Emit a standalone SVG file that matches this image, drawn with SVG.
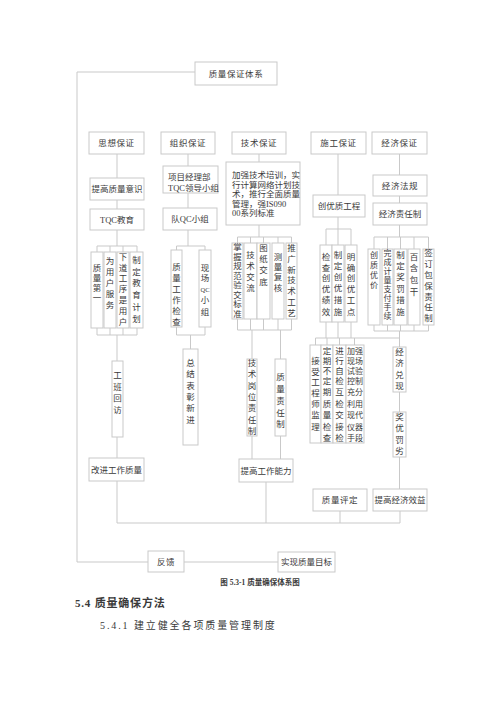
<svg xmlns="http://www.w3.org/2000/svg" width="500" height="707" viewBox="0 0 500 707">
<style>
.b{fill:#fff;stroke:#c9c9c9;stroke-width:1}
.l{fill:none;stroke:#c9c9c9;stroke-width:1}
text{font-family:"Liberation Serif","Noto Sans CJK SC",serif;font-size:8.5px;fill:#3a3a3a}
.c{text-anchor:middle}
.s{font-size:8px}
.h{letter-spacing:0.6px}
</style>
<rect width="500" height="707" fill="#fff"/>
<g id="connectors" class="l">
<path d="M77,72H195M77,72V562H148M184,562H278"/>
<path d="M117,154V178M117,200V209M117,230V246M97,246H137M97,246V252M110,246V252M123,246V252M137,246V252M97,328V335M110,328V335M123,328V335M137,328V335M97,335H137M117,335V361M117,437V458M117,481V523H400"/>
<path d="M188,154V166M188,193V208M188,230V246M176.5,246H205M176.5,246V250M205,246V250M176.5,327V335M205,327V335M176.5,335H205M190.5,335V349"/>
<path d="M259,154V162M259,225V237M237.5,237H291.5M237.5,237V243M250.5,237V243M263.5,237V243M278,237V243M291.5,237V243M237.5,319V330M250.5,319V330M263.5,319V330M278,319V330M291.5,319V330M237.5,330H291.5M252,330V359M280.5,330V359M252,436V459M280.5,436V459M266,482V523"/>
<path d="M338,154V195M338,217V229M326,229H351M326,229V245M338,229V245M351,229V245M326,322V338M338,322V338M351,322V338M315.5,338H399.5M315.5,338V345M327,338V345M339.5,338V345M354.5,338V345M340,511V523"/>
<path d="M399.5,154V175M399.5,196V203M399.5,225V237M374,237H428.5M374,237V249M387.5,237V249M400.5,237V249M414,237V249M428.5,237V249M374,325V331M387.5,325V331M400.5,325V331M414,325V331M428.5,325V331M374,331H428.5M399.5,331V347M399.5,392V412M399.5,457V489M400,511V523"/>
</g>
<g id="n-root"><rect class="b" x="195" y="62" width="82" height="23"/><text class="c h" x="236" y="77">质量保证体系</text></g>
<g id="n-sixiang"><rect class="b" x="89" y="132" width="55" height="22"/><text class="c h" x="116.5" y="146">思想保证</text></g>
<g id="n-zuzhi"><rect class="b" x="161" y="132" width="54" height="22"/><text class="c h" x="188" y="146">组织保证</text></g>
<g id="n-jishu"><rect class="b" x="232" y="132" width="54" height="22"/><text class="c h" x="259" y="146">技术保证</text></g>
<g id="n-shigong"><rect class="b" x="311" y="132" width="55" height="22"/><text class="c h" x="338.5" y="146">施工保证</text></g>
<g id="n-jingji"><rect class="b" x="372" y="132" width="55" height="22"/><text class="c h" x="399.5" y="146">经济保证</text></g>

<g id="n-tigaozhiliang"><rect class="b" x="90" y="178" width="54" height="22"/><text class="c" x="117" y="192">提高质量意识</text></g>
<g id="n-tqc"><rect class="b" x="90" y="209" width="54" height="21"/><text class="c" x="117" y="223">TQC教育</text></g>
<g id="n-s1"><rect class="b" x="91" y="252" width="12" height="76"/><text class="c"><tspan x="97" y="271">质</tspan><tspan x="97" y="281">量</tspan><tspan x="97" y="291">第</tspan><tspan x="97" y="301">一</tspan></text></g>
<g id="n-s2"><rect class="b" x="104" y="252" width="12" height="76"/><text class="c"><tspan x="110" y="264">为</tspan><tspan x="110" y="275">用</tspan><tspan x="110" y="286">户</tspan><tspan x="110" y="297">服</tspan><tspan x="110" y="308">务</tspan></text></g>
<g id="n-s3"><rect class="b" x="117" y="252" width="12" height="76"/><text class="c"><tspan x="123" y="260">下</tspan><tspan x="123" y="271">道</tspan><tspan x="123" y="281">工</tspan><tspan x="123" y="292">序</tspan><tspan x="123" y="303">是</tspan><tspan x="123" y="314">用</tspan><tspan x="123" y="325">户</tspan></text></g>
<g id="n-s4"><rect class="b" x="130" y="252" width="13" height="76"/><text class="c"><tspan x="136.5" y="263">制</tspan><tspan x="136.5" y="275">定</tspan><tspan x="136.5" y="286">教</tspan><tspan x="136.5" y="298">育</tspan><tspan x="136.5" y="310">计</tspan><tspan x="136.5" y="322">划</tspan></text></g>
<g id="n-gongban"><rect class="b" x="112" y="361" width="11" height="76"/><text class="c"><tspan x="117.5" y="378">工</tspan><tspan x="117.5" y="390">班</tspan><tspan x="117.5" y="401">回</tspan><tspan x="117.5" y="413">访</tspan></text></g>
<g id="n-gaijin"><rect class="b" x="89" y="458" width="55" height="23"/><text class="c" x="116.5" y="473">改进工作质量</text></g>

<g id="n-xiangmu"><rect class="b" x="163" y="166" width="55" height="27"/><text x="168" y="180">项目经理部</text><text x="168" y="191">TQC领导小组</text></g>
<g id="n-duiqc"><rect class="b" x="163" y="208" width="54" height="22"/><text class="c" x="190" y="222">队QC小组</text></g>
<g id="n-z1"><rect class="b" x="171" y="250" width="11" height="77"/><text class="c"><tspan x="176.5" y="270">质</tspan><tspan x="176.5" y="281">量</tspan><tspan x="176.5" y="292">工</tspan><tspan x="176.5" y="303">作</tspan><tspan x="176.5" y="314">检</tspan><tspan x="176.5" y="325">查</tspan></text></g>
<g id="n-z2"><rect class="b" x="199" y="250" width="12" height="77"/><text class="c"><tspan x="205" y="271">现</tspan><tspan x="205" y="281">场</tspan><tspan x="205" y="292" style="font-size:6.5px">QC</tspan><tspan x="205" y="303">小</tspan><tspan x="205" y="315">组</tspan></text></g>
<g id="n-zongjie"><rect class="b" x="183" y="349" width="15" height="96"/><text class="c"><tspan x="190.5" y="366">总</tspan><tspan x="190.5" y="377">结</tspan><tspan x="190.5" y="389">表</tspan><tspan x="190.5" y="400">彰</tspan><tspan x="190.5" y="411">新</tspan><tspan x="190.5" y="423">进</tspan></text></g>

<g id="n-jiaqiang"><rect class="b" x="226" y="162" width="74" height="63"/><g style="font-size:8.1px"><text x="232" y="178">加强技术培训，实</text><text x="232" y="187.6">行计算网络计划技</text><text x="232" y="197.2">术，推行全面质量</text><text x="232" y="206.8">管理，强IS090</text><text x="232" y="216.4">00系列标准</text></g></g>
<g id="n-j1"><rect class="b" x="232" y="243" width="11" height="76"/><text class="c"><tspan x="237.5" y="250">掌</tspan><tspan x="237.5" y="259.5">握</tspan><tspan x="237.5" y="269">规</tspan><tspan x="237.5" y="278.5">范</tspan><tspan x="237.5" y="288">验</tspan><tspan x="237.5" y="297.5">交</tspan><tspan x="237.5" y="307">标</tspan><tspan x="237.5" y="316.5">准</tspan></text></g>
<g id="n-j2"><rect class="b" x="244" y="243" width="13" height="76"/><text class="c"><tspan x="250.5" y="258">技</tspan><tspan x="250.5" y="269">术</tspan><tspan x="250.5" y="280">交</tspan><tspan x="250.5" y="291">流</tspan></text></g>
<g id="n-j3"><rect class="b" x="257" y="243" width="13" height="76"/><text class="c"><tspan x="263.5" y="251">图</tspan><tspan x="263.5" y="262">纸</tspan><tspan x="263.5" y="273">交</tspan><tspan x="263.5" y="285">底</tspan></text></g>
<g id="n-j4"><rect class="b" x="272" y="243" width="12" height="76"/><text class="c"><tspan x="278" y="260">测</tspan><tspan x="278" y="270">量</tspan><tspan x="278" y="280">复</tspan><tspan x="278" y="291">核</tspan></text></g>
<g id="n-j5"><rect class="b" x="286" y="243" width="11" height="76"/><text class="c"><tspan x="291.5" y="251">推</tspan><tspan x="291.5" y="262">广</tspan><tspan x="291.5" y="273">新</tspan><tspan x="291.5" y="283">技</tspan><tspan x="291.5" y="294">术</tspan><tspan x="291.5" y="305">工</tspan><tspan x="291.5" y="316">艺</tspan></text></g>
<g id="n-gangwei"><rect class="b" x="247" y="359" width="10" height="77"/><text class="c"><tspan x="252" y="366">技</tspan><tspan x="252" y="377">术</tspan><tspan x="252" y="389">岗</tspan><tspan x="252" y="400">位</tspan><tspan x="252" y="411">责</tspan><tspan x="252" y="423">任</tspan><tspan x="252" y="434">制</tspan></text></g>
<g id="n-zerenzhi"><rect class="b" x="275" y="359" width="11" height="77"/><text class="c"><tspan x="280.5" y="380">质</tspan><tspan x="280.5" y="392">量</tspan><tspan x="280.5" y="404">责</tspan><tspan x="280.5" y="416">任</tspan><tspan x="280.5" y="427">制</tspan></text></g>
<g id="n-nengli"><rect class="b" x="239" y="459" width="54" height="23"/><text class="c" x="266" y="474">提高工作能力</text></g>

<g id="n-chuangyou"><rect class="b" x="313" y="195" width="52" height="22"/><text class="c" x="339" y="209">创优质工程</text></g>
<g id="n-c1"><rect class="b" x="320" y="245" width="12" height="77"/><text class="c"><tspan x="326" y="260">检</tspan><tspan x="326" y="271">查</tspan><tspan x="326" y="281">创</tspan><tspan x="326" y="292">优</tspan><tspan x="326" y="303">绩</tspan><tspan x="326" y="315">效</tspan></text></g>
<g id="n-c2"><rect class="b" x="332" y="245" width="12" height="77"/><text class="c"><tspan x="338" y="258">制</tspan><tspan x="338" y="269">定</tspan><tspan x="338" y="280">创</tspan><tspan x="338" y="291">优</tspan><tspan x="338" y="303">措</tspan><tspan x="338" y="315">施</tspan></text></g>
<g id="n-c3"><rect class="b" x="345" y="245" width="12" height="77"/><text class="c"><tspan x="351" y="260">明</tspan><tspan x="351" y="271">确</tspan><tspan x="351" y="281">创</tspan><tspan x="351" y="292">优</tspan><tspan x="351" y="303">工</tspan><tspan x="351" y="315">点</tspan></text></g>
<g id="n-c4"><rect class="b" x="310" y="345" width="11" height="98"/><text class="c"><tspan x="315.5" y="364">接</tspan><tspan x="315.5" y="375">受</tspan><tspan x="315.5" y="385">工</tspan><tspan x="315.5" y="396">程</tspan><tspan x="315.5" y="407">师</tspan><tspan x="315.5" y="418">监</tspan><tspan x="315.5" y="430">理</tspan></text></g>
<g id="n-c5"><rect class="b" x="321" y="345" width="12" height="98"/><text class="c"><tspan x="327" y="354">定</tspan><tspan x="327" y="364">期</tspan><tspan x="327" y="374">不</tspan><tspan x="327" y="384">定</tspan><tspan x="327" y="395">期</tspan><tspan x="327" y="407">质</tspan><tspan x="327" y="418">量</tspan><tspan x="327" y="430">检</tspan><tspan x="327" y="441">查</tspan></text></g>
<g id="n-c6"><rect class="b" x="333" y="345" width="13" height="98"/><text class="c"><tspan x="339.5" y="354">进</tspan><tspan x="339.5" y="364">行</tspan><tspan x="339.5" y="374">自</tspan><tspan x="339.5" y="384">检</tspan><tspan x="339.5" y="395">互</tspan><tspan x="339.5" y="407">检</tspan><tspan x="339.5" y="418">交</tspan><tspan x="339.5" y="430">接</tspan><tspan x="339.5" y="441">检</tspan></text></g>
<g id="n-c7"><rect class="b" x="346" y="345" width="18" height="98"/><text class="c" style="font-size:8px"><tspan x="355" y="354">加强</tspan><tspan x="355" y="364">现场</tspan><tspan x="355" y="374">试验</tspan><tspan x="355" y="384">控制</tspan><tspan x="355" y="395">充分</tspan><tspan x="355" y="407">利用</tspan><tspan x="355" y="418">现代</tspan><tspan x="355" y="430">仪器</tspan><tspan x="355" y="441">手段</tspan></text></g>
<g id="n-pingding"><rect class="b" x="313" y="489" width="54" height="22"/><text class="c h" x="340" y="503">质量评定</text></g>

<g id="n-fagui"><rect class="b" x="373" y="175" width="54" height="21"/><text class="c h" x="400" y="189">经济法规</text></g>
<g id="n-zeren"><rect class="b" x="373" y="203" width="54" height="22"/><text class="c" x="400" y="217">经济责任制</text></g>
<g id="n-e1"><rect class="b" x="368" y="249" width="12" height="76"/><text class="c s"><tspan x="374" y="258">创</tspan><tspan x="374" y="268">质</tspan><tspan x="374" y="278">优</tspan><tspan x="374" y="288">价</tspan></text></g>
<g id="n-e2"><rect class="b" x="382" y="249" width="11" height="76"/><text class="c s"><tspan x="387.5" y="256">完</tspan><tspan x="387.5" y="265">成</tspan><tspan x="387.5" y="274">计</tspan><tspan x="387.5" y="283">量</tspan><tspan x="387.5" y="292">支</tspan><tspan x="387.5" y="301">付</tspan><tspan x="387.5" y="310">手</tspan><tspan x="387.5" y="319">续</tspan></text></g>
<g id="n-e3"><rect class="b" x="394" y="249" width="13" height="76"/><text class="c"><tspan x="400.5" y="258">制</tspan><tspan x="400.5" y="269">定</tspan><tspan x="400.5" y="280">奖</tspan><tspan x="400.5" y="292">罚</tspan><tspan x="400.5" y="303">措</tspan><tspan x="400.5" y="315">施</tspan></text></g>
<g id="n-e4"><rect class="b" x="408" y="249" width="12" height="76"/><text class="c"><tspan x="414" y="260">百</tspan><tspan x="414" y="271">含</tspan><tspan x="414" y="283">包</tspan><tspan x="414" y="295">干</tspan></text></g>
<g id="n-e5"><rect class="b" x="423" y="249" width="11" height="76"/><text class="c"><tspan x="428.5" y="256">签</tspan><tspan x="428.5" y="267">订</tspan><tspan x="428.5" y="278">包</tspan><tspan x="428.5" y="289">保</tspan><tspan x="428.5" y="300">责</tspan><tspan x="428.5" y="310">任</tspan><tspan x="428.5" y="321">制</tspan></text></g>
<g id="n-duixian"><rect class="b" x="393" y="347" width="13" height="45"/><text class="c"><tspan x="399.5" y="355">经</tspan><tspan x="399.5" y="366">济</tspan><tspan x="399.5" y="378">兑</tspan><tspan x="399.5" y="389">现</tspan></text></g>
<g id="n-jiangyou"><rect class="b" x="393" y="412" width="13" height="45"/><text class="c"><tspan x="399.5" y="420">奖</tspan><tspan x="399.5" y="431">优</tspan><tspan x="399.5" y="443">罚</tspan><tspan x="399.5" y="454">劣</tspan></text></g>
<g id="n-xiaoyi"><rect class="b" x="373" y="489" width="54" height="22"/><text class="c" x="400" y="503">提高经济效益</text></g>

<g id="n-fankui"><rect class="b" x="148" y="551" width="36" height="21"/><text class="c h" x="166" y="565">反馈</text></g>
<g id="n-mubiao"><rect class="b" x="278" y="552" width="57" height="20"/><text class="c" x="306.5" y="565">实现质量目标</text></g>

<text class="c" x="260" y="585" style="font-size:7.5px;font-weight:bold">图 5.3-1  质量确保体系图</text>
<text x="75" y="607" style="font-size:11px;font-weight:bold;letter-spacing:0.8px">5.4 质量确保方法</text>
<text x="100" y="629" style="font-size:10px;letter-spacing:1.9px">5.4.1 建立健全各项质量管理制度</text>
</svg>
